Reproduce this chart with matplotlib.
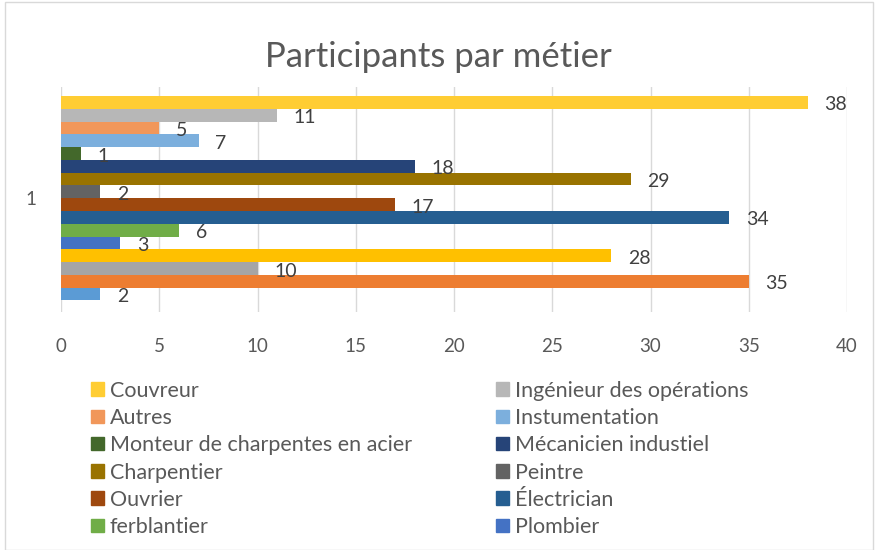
import matplotlib
matplotlib.use("Agg")
import matplotlib.pyplot as plt
from matplotlib.patches import Patch, Rectangle

plt.rcParams['font.family'] = ['Lato', 'DejaVu Sans']

title = "Participants par métier"
category = "1"
# series from bottom to top
series_names = ["", "", "", "", "Plombier", "ferblantier", "Électrician", "Ouvrier",
                "Peintre", "Charpentier", "Mécanicien industiel", "Monteur de charpentes en acier",
                "Instumentation", "Autres", "Ingénieur des opérations", "Couvreur"]
series_values = [2, 35, 10, 28, 3, 6, 34, 17, 2, 29, 18, 1, 7, 5, 11, 38]
series_colors = ["#5B9BD5", "#ED7D31", "#A5A5A5", "#FFC000", "#4472C4", "#70AD47",
                 "#255E91", "#9E480E", "#636363", "#997300", "#264478", "#43682B",
                 "#7CAFDD", "#F1975A", "#B7B7B7", "#FFCD33"]
x_ticks = [0, 5, 10, 15, 20, 25, 30, 35, 40]

fig = plt.figure(figsize=(8.77, 5.5), dpi=100)
fig.patches.append(Rectangle((0.006, 0.0), 0.99, 0.997, transform=fig.transFigure,
                             fill=False, edgecolor="#D9D9D9", lw=1))
ax = fig.add_axes([61/877, 1-312/550, (847-61)/877, (312-87)/550])

n = len(series_values)
for i, (v, c) in enumerate(zip(series_values, series_colors)):
    ax.barh(i, v, height=1.0, color=c, zorder=3)
    ax.text(v + 0.85, i - 0.2, str(v), va="center", ha="left", fontsize=14,
            color="#404040", zorder=4)

ax.set_xlim(0, 40)
ax.set_ylim(-1.4, n - 0.6 + 0.8)
ax.set_xticks(x_ticks)
ax.set_xticklabels([str(t) for t in x_ticks])
ax.set_yticks([(n - 1) / 2])
ax.set_yticklabels([category])
ax.tick_params(axis="x", length=0, pad=19, labelsize=13.5, labelcolor="#595959")
ax.tick_params(axis="y", length=0, pad=18, labelsize=13.5, labelcolor="#595959")
ax.grid(axis="x", color="#D9D9D9", lw=1, zorder=0)
for s in ax.spines.values():
    s.set_visible(False)

fig.text(0.5, 1-57/550, title, ha="center", va="center", fontsize=25, color="#595959")

entries = [(series_names[i], series_colors[i]) for i in range(n - 1, -1, -1) if series_names[i]]
# legend reads row by row, matplotlib fills column by column
ordered = entries[0::2] + entries[1::2]
handles = [Patch(color=c) for _, c in ordered]
labels = [name for name, _ in ordered]
leg = fig.legend(handles, labels, ncol=2, frameon=False, loc="upper left",
                 bbox_to_anchor=(82/877, 1-372/550), fontsize=15.5,
                 handlelength=0.6, handleheight=0.6, handletextpad=0.3,
                 labelspacing=0.34, columnspacing=3.9, labelcolor="#595959",
                 borderaxespad=0)

fig.savefig("out.png", dpi=100)
